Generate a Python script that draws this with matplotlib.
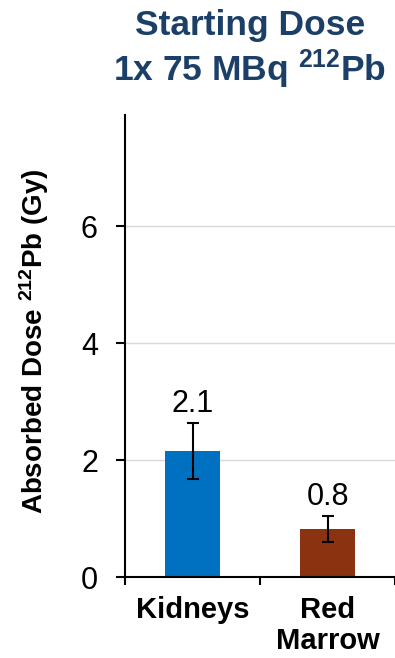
import matplotlib
matplotlib.use("Agg")
import matplotlib.pyplot as plt

plt.rcParams['font.family'] = ['Liberation Sans', 'DejaVu Sans']
plt.rcParams['mathtext.fontset'] = 'custom'
plt.rcParams['mathtext.rm'] = 'Liberation Sans'
plt.rcParams['mathtext.bf'] = 'Liberation Sans:bold'
plt.rcParams['mathtext.default'] = 'bf'

# Data
organs = ['Kidneys', 'Red\nMarrow']
dose = [2.15, 0.82]
dose_err = [0.48, 0.22]
dose_labels = ['2.1', '0.8']
colors = ['#0070C0', '#8B3211']

fig = plt.figure(figsize=(3.95, 6.58), dpi=100)
ax = fig.add_axes([0.3165, 0.1231, 0.6835, 0.702])

x = list(range(len(organs)))
ax.bar(x, dose, width=0.41, color=colors, zorder=2)
ax.errorbar(x, dose, yerr=dose_err, fmt='none', ecolor='black',
            elinewidth=1.5, capsize=4, capthick=1.5, zorder=3)

for xi, v, e, lab in zip(x, dose, dose_err, dose_labels):
    ax.annotate(lab, (xi, v + e), xytext=(0, 8), textcoords='offset points',
                ha='center', va='baseline', fontsize=22)

ax.set_xlim(-0.5, 1.5)
ax.set_ylim(0, 7.9)
ax.set_yticks([0, 2, 4, 6])
ax.yaxis.grid(True, color='#D9D9D9', linewidth=1, zorder=0)
ax.set_axisbelow(True)

ax.set_xticks([-0.5, 0.5, 1.5])
ax.set_xticklabels([])
ax.set_xticks(x, minor=True)
ax.set_xticklabels(organs, minor=True, fontsize=21, fontweight='bold', linespacing=1.12)
ax.tick_params(axis='x', which='minor', length=0, pad=14)
ax.tick_params(axis='x', which='major', length=6, width=1.5, direction='out')
ax.tick_params(axis='y', labelsize=22, length=6.5, width=1.5, pad=13)

for s in ['top', 'right']:
    ax.spines[s].set_visible(False)
for s in ['left', 'bottom']:
    ax.spines[s].set_linewidth(1.5)

ax.set_ylabel('Absorbed Dose $^{212}$Pb (Gy)', fontsize=20, fontweight='bold')
ax.yaxis.set_label_coords(-0.275, 0.51)

fig.text(0.632, 0.986, 'Starting Dose\n1x 75 MBq $^{212}$Pb', ha='center', va='top',
         fontsize=25.5, fontweight='bold', color='#1B3F66', linespacing=1.15)

fig.savefig('out.png', dpi=100)
